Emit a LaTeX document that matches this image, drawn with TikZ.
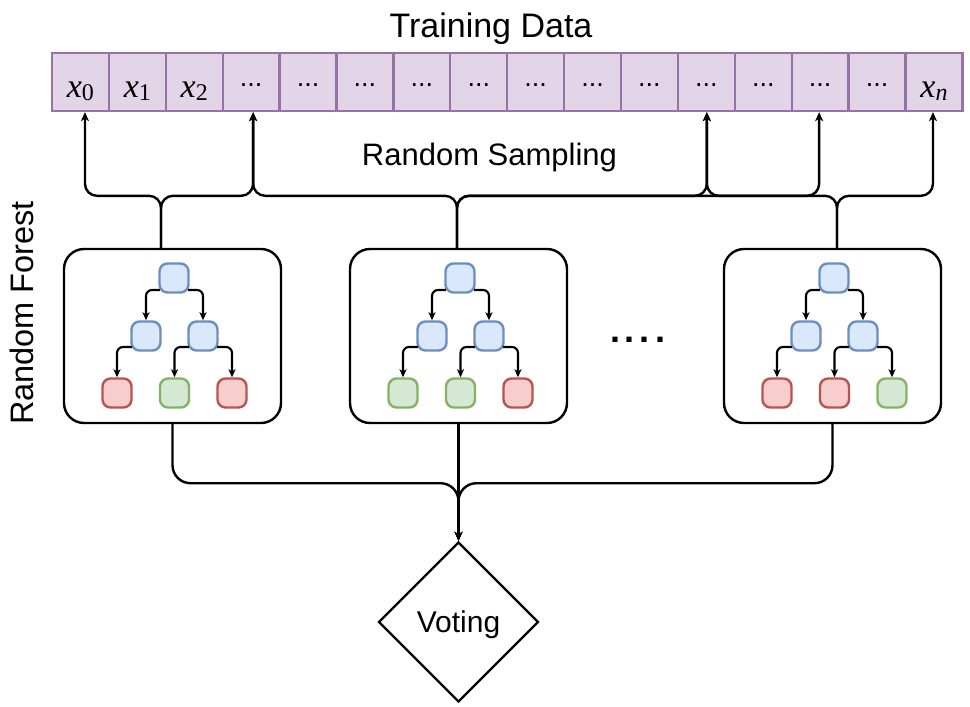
\documentclass[tikz,border=0pt]{standalone}
\usepackage{fontspec}
\setmainfont{Liberation Sans}
\newfontfamily\tms{Liberation Serif}
\usetikzlibrary{arrows.meta,shapes.geometric,calc}
\definecolor{pfill}{HTML}{E1D5E7}
\definecolor{pline}{HTML}{9673A6}
\definecolor{bfill}{HTML}{DAE8FC}
\definecolor{bline}{HTML}{6C8EBF}
\definecolor{rfill}{HTML}{F8CECC}
\definecolor{rline}{HTML}{B85450}
\definecolor{gfill}{HTML}{D5E8D4}
\definecolor{gline}{HTML}{82B366}
\newcommand\xsub[1]{{\tms\fontsize{34}{34}\selectfont\itshape x\fontsize{24}{24}\selectfont\raisebox{-3.5pt}{#1}}}
\newcommand\mytree[5]{%
\begin{scope}[shift={(#1,249)}]
\node[tn,ndblue] (#2r) at (110,29) {};
\node[tn,ndblue] (#2a) at (82,87) {};
\node[tn,ndblue] (#2b) at (139,87) {};
\node[tn,#3] (#2p) at (53,144) {};
\node[tn,#4] (#2q) at (110.5,144) {};
\node[tn,#5] (#2s) at (168,144) {};
\draw[tarr] ($(#2r.west)+(1.5,12)$) -| (#2a.north);
\draw[tarr] ($(#2r.east)+(-1.5,12)$) -| (#2b.north);
\draw[tarr] ($(#2a.west)+(1.5,11)$) -| (#2p.north);
\draw[tarr] ($(#2b.west)+(1.5,11)$) -| (#2q.north);
\draw[tarr] ($(#2b.east)+(-1.5,11)$) -| (#2s.north);
\end{scope}}
\begin{document}
\begin{tikzpicture}[x=1pt,y=-1pt,
  cell/.style={draw=pline,fill=pfill,line width=2.3pt,minimum width=56.9pt,minimum height=58pt,inner sep=0pt},
  tn/.style={line width=2.4pt,minimum width=29pt,minimum height=29pt,rounded corners=8pt,inner sep=0pt},
  ndblue/.style={draw=bline,fill=bfill},
  lfred/.style={draw=rline,fill=rfill},
  lfgreen/.style={draw=gline,fill=gfill},
  tarr/.style={line width=2.1pt,rounded corners=6pt,-{Stealth[length=8pt,width=7pt,inset=2pt]}},
  fbox/.style={draw,line width=2.4pt,rounded corners=20pt,minimum width=217pt,minimum height=174pt,inner sep=0pt},
  conn/.style={line width=2.4pt,rounded corners=12pt,-{Stealth[length=9pt,width=8pt,inset=2.5pt]}},
  bconn/.style={line width=2.4pt,rounded corners=18pt,-{Stealth[length=9pt,width=8pt,inset=2.5pt]}},
  big/.style={font=\fontsize{31}{31}\selectfont}]
\useasboundingbox (0,0) rectangle (970,707);
% training data cells
\foreach \i in {0,...,15}
  \node[cell] (c\i) at ({52+56.9*(\i+0.5)},82) {};
\node[anchor=base,inner sep=0pt] (l0) at ($(c0.center)+(0,15)$) {\xsub{\upshape 0}};
\node[anchor=base,inner sep=0pt] (l1) at ($(c1.center)+(0,15)$) {\xsub{\upshape 1}};
\node[anchor=base,inner sep=0pt] (l2) at ($(c2.center)+(0,15)$) {\xsub{\upshape 2}};
\node[anchor=base,inner sep=0pt] (l15) at ($(c15.center)+(0,15)$) {\xsub{n}};
\foreach \i in {3,...,14}
  \node[font=\fontsize{27}{27}\selectfont,inner sep=0pt,anchor=base] (d\i) at ($(c\i.center)+(0,4)$) {...};
% titles
\node[font=\fontsize{34}{34}\selectfont,anchor=base,inner sep=0pt] (title) at (491,37) {Training Data};
\node[big,anchor=base,inner sep=0pt] (samp) at (489.5,165) {Random Sampling};
\node[font=\fontsize{32.5}{32.5}\selectfont,anchor=base,inner sep=0pt,rotate=90] (forest) at (33,313) {Random Forest};
% boxes
\node[fbox] (b1) at (172.5,336) {};
\node[fbox] (b2) at (458.5,336) {};
\node[fbox] (b3) at (832.5,336) {};
\mytree{64}{ta}{lfred}{lfgreen}{lfred}
\mytree{350}{tb}{lfgreen}{lfgreen}{lfred}
\mytree{724}{tc}{lfred}{lfred}{lfgreen}
\node[font=\bfseries\fontsize{36}{36}\selectfont,inner sep=0pt] (more) at (637.5,340) {.\hspace{5pt}.\hspace{5pt}.\hspace{5pt}.};
% sampling connectors
\coordinate (s1) at ($(b1.north)+(-11.5,0)$);
\coordinate (s2) at ($(b2.north)+(-1.5,0)$);
\coordinate (s3) at ($(b3.north)+(4.5,0)$);
\coordinate (t0) at ($(c0.south)+(4.5,0)$);
\coordinate (t3) at ($(c3.south)+(2,0)$);
\coordinate (t11) at ($(c11.south)+(0.5,0)$);
\coordinate (t13) at ($(c13.south)+(-1,0)$);
\coordinate (t15) at ($(c15.south)+(-1,0)$);
\draw[conn] (s1) -- ++(0,-52) -| (t0);
\draw[conn] (s1) -- ++(0,-52) -| (t3);
\draw[conn] (s2) -- ++(0,-52) -| (t3);
\draw[conn] (s2) -- ++(0,-52) -| (t11);
\draw[conn] (s2) -- ++(0,-52) -| (t13);
\draw[conn] (s3) -- ++(0,-52) -| (t11);
\draw[conn] (s3) -- ++(0,-52) -| (t15);
% voting
\node[diamond,draw,line width=2.4pt,aspect=1,minimum width=160pt,minimum height=160pt,inner sep=0pt,font=\fontsize{30}{30}\selectfont,text depth=0pt] (voting) at (458.5,622) {Voting};
\draw[bconn] (b1.south) -- ++(0,59) -| (voting.north);
\draw[bconn] (b3.south) -- ++(0,59) -| (voting.north);
\draw[bconn] (b2.south) -- (voting.north);
\end{tikzpicture}
\end{document}
